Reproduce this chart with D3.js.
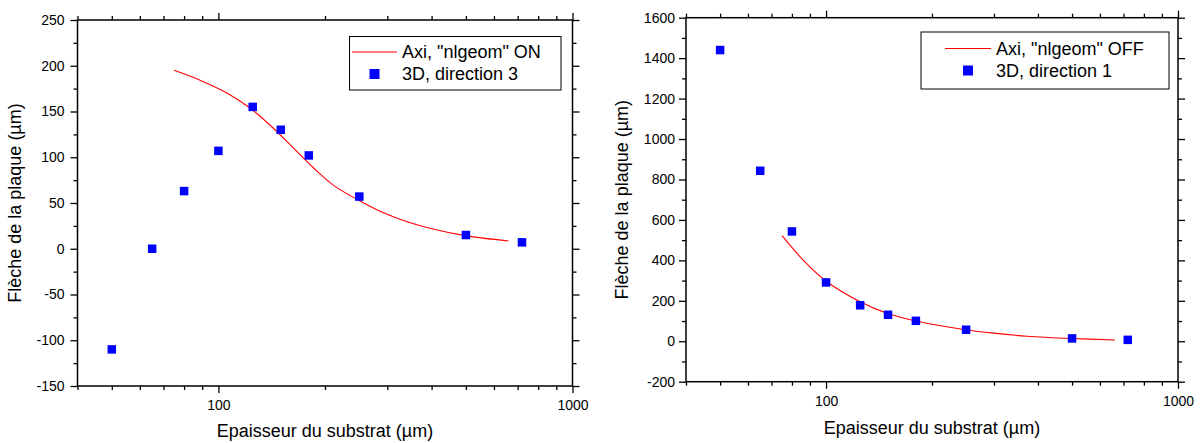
<!DOCTYPE html>
<html>
<head>
<meta charset="utf-8">
<script src="https://cdn.jsdelivr.net/npm/d3@7/dist/d3.min.js"></script>
<style>
  body { margin: 0; background: #fff; }
  svg { display: block; }
  text { font-family: "Liberation Sans", Arial, sans-serif; fill: #000; }
</style>
</head>
<body>
<svg id="chart" width="1201" height="443"></svg>
<script>
// ---- Data ----
const thickness = [50, 65, 80, 100, 125, 150, 180, 250, 500, 720];
const flecheDir3 = [-110, 0, 63, 107, 155, 130, 102, 57, 15, 7];
const flecheDir1 = [1440, 843, 543, 291, 178, 131, 101, 57, 14, 7];

const axiOnX = [75, 89, 106, 123, 140, 163, 186, 212, 249, 286, 341, 406, 498, 660];
const axiOnY = [195, 184, 170, 153.5, 135, 110, 88, 69, 53, 41, 29.6, 21.3, 14.3, 8.4];
const axiOffX = [75, 86, 99, 125, 149, 180, 249, 299, 372, 500, 662];
const axiOffY = [522, 402, 303, 195, 138, 100, 57, 40, 25, 13.5, 6.5];

const xMajorTicks = [100, 1000];
const xMinorTicks = [40, 50, 60, 70, 80, 90, 200, 300, 400, 500, 600, 700, 800, 900];
const yTicksLeft = [-150, -100, -50, 0, 50, 100, 150, 200, 250];
const yMinorLeft = [-125, -75, -25, 25, 75, 125, 175, 225];
const yTicksRight = [-200, 0, 200, 400, 600, 800, 1000, 1200, 1400, 1600];
const yMinorRight = [-100, 100, 300, 500, 700, 900, 1100, 1300, 1500];

const xTitle = "Epaisseur du substrat (µm)";
const yTitle = "Flèche de la plaque (µm)";
const legendLeft = ['Axi, "nlgeom" ON', "3D, direction 3"];
const legendRight = ['Axi, "nlgeom" OFF', "3D, direction 1"];

const svg = d3.select("#chart");
const fmt = d => String(d);

function drawChart(cfg) {
  const g = svg.append("g");
  const x = d3.scaleLog().domain([40, 1000]).range([cfg.x0, cfg.x1]);
  const y = d3.scaleLinear().domain(cfg.yDomain).range([cfg.y1, cfg.y0]);

  const major = 7, minor = 4;

  function styleAxis(sel, showText, fontSize) {
    sel.select(".domain").remove();
    sel.selectAll(".tick line").attr("stroke", "#000").attr("stroke-width", 1.3);
    if (!showText) sel.selectAll(".tick text").remove();
    else sel.selectAll(".tick text").attr("font-size", fontSize)
      .attr("font-family", '"Liberation Sans", Arial, sans-serif').attr("fill", "#000");
  }

  // bottom
  g.append("g").attr("transform", `translate(0,${cfg.y1})`)
    .call(d3.axisBottom(x).tickValues(xMajorTicks).tickSize(major).tickPadding(cfg.xPad).tickFormat(fmt))
    .call(s => styleAxis(s, true, 14));
  g.append("g").attr("transform", `translate(0,${cfg.y1})`)
    .call(d3.axisBottom(x).tickValues(xMinorTicks).tickSize(minor).tickFormat(""))
    .call(s => styleAxis(s, false));
  // top
  g.append("g").attr("transform", `translate(0,${cfg.y0})`)
    .call(d3.axisTop(x).tickValues(xMajorTicks).tickSize(major).tickFormat(""))
    .call(s => styleAxis(s, false));
  g.append("g").attr("transform", `translate(0,${cfg.y0})`)
    .call(d3.axisTop(x).tickValues(xMinorTicks).tickSize(minor).tickFormat(""))
    .call(s => styleAxis(s, false));
  // left
  g.append("g").attr("transform", `translate(${cfg.x0},0)`)
    .call(d3.axisLeft(y).tickValues(cfg.yTicks).tickSize(major).tickPadding(cfg.yPad).tickFormat(fmt))
    .call(s => styleAxis(s, true, 14));
  g.append("g").attr("transform", `translate(${cfg.x0},0)`)
    .call(d3.axisLeft(y).tickValues(cfg.yMinor).tickSize(minor).tickFormat(""))
    .call(s => styleAxis(s, false));
  // right
  g.append("g").attr("transform", `translate(${cfg.x1},0)`)
    .call(d3.axisRight(y).tickValues(cfg.yTicks).tickSize(major).tickFormat(""))
    .call(s => styleAxis(s, false));
  g.append("g").attr("transform", `translate(${cfg.x1},0)`)
    .call(d3.axisRight(y).tickValues(cfg.yMinor).tickSize(minor).tickFormat(""))
    .call(s => styleAxis(s, false));

  // frame
  g.append("rect").attr("x", cfg.x0).attr("y", cfg.y0)
    .attr("width", cfg.x1 - cfg.x0).attr("height", cfg.y1 - cfg.y0)
    .attr("fill", "none").attr("stroke", "#000").attr("stroke-width", 1.5);

  // curve
  const line = d3.line().x(d => x(d[0])).y(d => y(d[1])).curve(d3.curveCatmullRom.alpha(0.5));
  const cdata = cfg.curveX.map((v, i) => [v, cfg.curveY[i]]);
  g.append("path").datum(cdata).attr("d", line)
    .attr("fill", "none").attr("stroke", "#ff0000").attr("stroke-width", 1.1);

  // points
  const s = 8.5;
  g.selectAll("rect.pt").data(thickness.map((v, i) => [v, cfg.points[i]])).join("rect")
    .attr("class", "pt")
    .attr("x", d => x(d[0]) - s / 2).attr("y", d => y(d[1]) - s / 2)
    .attr("width", s).attr("height", s).attr("fill", "#0000ff");

  // axis titles
  g.append("text").attr("x", (cfg.x0 + cfg.x1) / 2).attr("y", cfg.xTitleY)
    .attr("text-anchor", "middle").attr("font-size", 18).text(xTitle);
  g.append("text").attr("transform", `translate(${cfg.yTitleX},${(cfg.y0 + cfg.y1) / 2}) rotate(-90)`)
    .attr("text-anchor", "middle").attr("font-size", 18).text(yTitle);

  // legend
  const L = cfg.legend;
  g.append("rect").attr("x", L.x).attr("y", L.y).attr("width", L.w).attr("height", L.h)
    .attr("fill", "#fff").attr("stroke", "#000").attr("stroke-width", 1);
  g.append("line").attr("x1", L.lx1).attr("x2", L.lx2).attr("y1", L.r1).attr("y2", L.r1)
    .attr("stroke", "#ff0000").attr("stroke-width", 1.1);
  g.append("rect").attr("x", (L.lx1 + L.lx2) / 2 - 5).attr("y", L.r2 - 5)
    .attr("width", 10).attr("height", 10).attr("fill", "#0000ff");
  g.append("text").attr("x", L.tx).attr("y", L.r1).attr("dy", "0.35em")
    .attr("font-size", 18).text(cfg.legendText[0]);
  g.append("text").attr("x", L.tx).attr("y", L.r2).attr("dy", "0.35em")
    .attr("font-size", 18).text(cfg.legendText[1]);
}

drawChart({
  x0: 77.5, x1: 572.5, y0: 20, y1: 386,
  yDomain: [-150, 250], yTicks: yTicksLeft, yMinor: yMinorLeft,
  xPad: 7, yPad: 6,
  curveX: axiOnX, curveY: axiOnY, points: flecheDir3,
  xTitleY: 437, yTitleX: 21,
  legend: { x: 349.5, y: 36.5, w: 211.5, h: 53.5, lx1: 352, lx2: 397, tx: 402, r1: 52, r2: 74 },
  legendText: legendLeft
});

drawChart({
  x0: 686, x1: 1178, y0: 17.7, y1: 381.7,
  yDomain: [-200, 1600], yTicks: yTicksRight, yMinor: yMinorRight,
  xPad: 7, yPad: 4,
  curveX: axiOffX, curveY: axiOffY, points: flecheDir1,
  xTitleY: 434, yTitleX: 628,
  legend: { x: 921, y: 32, w: 248, h: 57, lx1: 945, lx2: 991, tx: 996, r1: 48.5, r2: 70.5 },
  legendText: legendRight
});
</script>
</body>
</html>
